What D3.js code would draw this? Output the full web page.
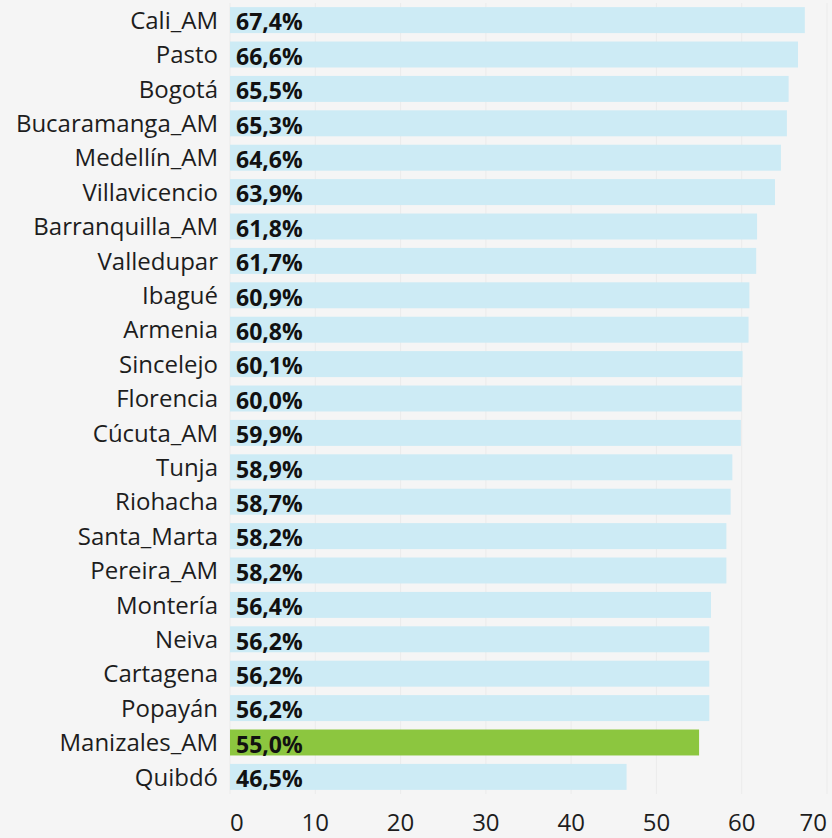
<!DOCTYPE html>
<html lang="en">
<head>
    <meta charset="UTF-8">
    <script src="https://cdn.jsdelivr.net/npm/d3@7"></script>
    <title>Ciudades</title>
    <style>
        body {
            margin: 0;
            background: #f5f5f5;
        }
        svg {
            display: block;
            font-family: "Open Sans", sans-serif;
        }
    </style>
</head>
<body>
    <div id="chart"></div>
    <script>
        // data
        const cities = ["Cali_AM", "Pasto", "Bogotá", "Bucaramanga_AM", "Medellín_AM", "Villavicencio",
            "Barranquilla_AM", "Valledupar", "Ibagué", "Armenia", "Sincelejo", "Florencia", "Cúcuta_AM",
            "Tunja", "Riohacha", "Santa_Marta", "Pereira_AM", "Montería", "Neiva", "Cartagena",
            "Popayán", "Manizales_AM", "Quibdó"];
        const values = [67.4, 66.6, 65.5, 65.3, 64.6, 63.9, 61.8, 61.7, 60.9, 60.8, 60.1, 60.0, 59.9,
            58.9, 58.7, 58.2, 58.2, 56.4, 56.2, 56.2, 56.2, 55.0, 46.5];
        const highlight = "Manizales_AM";
        const xTicks = [0, 10, 20, 30, 40, 50, 60, 70];

        const width = 832, height = 838;
        const margin = {top: 3, right: 5, bottom: 44, left: 230};

        const rows = cities.map((c, i) => ({city: c, value: values[i]}));

        const svg = d3.select("#chart").append("svg")
            .attr("width", width)
            .attr("height", height);

        svg.append("rect")
            .attr("width", width)
            .attr("height", height)
            .attr("fill", "#f5f5f5");

        const x = d3.scaleLinear()
            .domain([0, 70])
            .range([margin.left, width - margin.right]);

        const y = d3.scaleBand()
            .domain(cities)
            .range([margin.top, height - margin.bottom])
            .paddingInner(0.245)
            .paddingOuter(0.12);

        // grid lines
        svg.append("g")
            .selectAll("line")
            .data(xTicks)
            .join("line")
            .attr("x1", d => x(d))
            .attr("x2", d => x(d))
            .attr("y1", 3)
            .attr("y2", height - margin.bottom)
            .attr("stroke", "#ebebeb")
            .attr("stroke-width", 1);

        // bars
        svg.append("g")
            .selectAll("rect")
            .data(rows)
            .join("rect")
            .attr("x", x(0))
            .attr("y", d => y(d.city))
            .attr("width", d => x(d.value) - x(0))
            .attr("height", y.bandwidth())
            .attr("fill", d => d.city === highlight ? "#8cc63f" : "#cdebf5");

        // city names
        svg.append("g")
            .selectAll("text")
            .data(rows)
            .join("text")
            .attr("x", margin.left - 12)
            .attr("y", d => y(d.city) + y.bandwidth() / 2)
            .attr("dy", "0.36em")
            .attr("text-anchor", "end")
            .attr("font-size", "24px")
            .attr("fill", "#1d1d1d")
            .text(d => d.city);

        // value labels
        const fmt = d => d.toFixed(1).replace(".", ",") + "%";
        svg.append("g")
            .selectAll("text")
            .data(rows)
            .join("text")
            .attr("x", x(0) + 6)
            .attr("y", d => y(d.city) + y.bandwidth() / 2)
            .attr("dy", "0.45em")
            .attr("font-size", "23px")
            .attr("font-weight", "bold")
            .attr("fill", "#111")
            .text(d => fmt(d.value));

        // x axis labels
        svg.append("g")
            .selectAll("text")
            .data(xTicks)
            .join("text")
            .attr("x", d => x(d))
            .attr("y", height - 7)
            .attr("text-anchor", (d, i) => i === 0 ? "start" : (i === xTicks.length - 1 ? "end" : "middle"))
            .attr("font-size", "24px")
            .attr("fill", "#1d1d1d")
            .text(d => d);
    </script>
</body>
</html>
